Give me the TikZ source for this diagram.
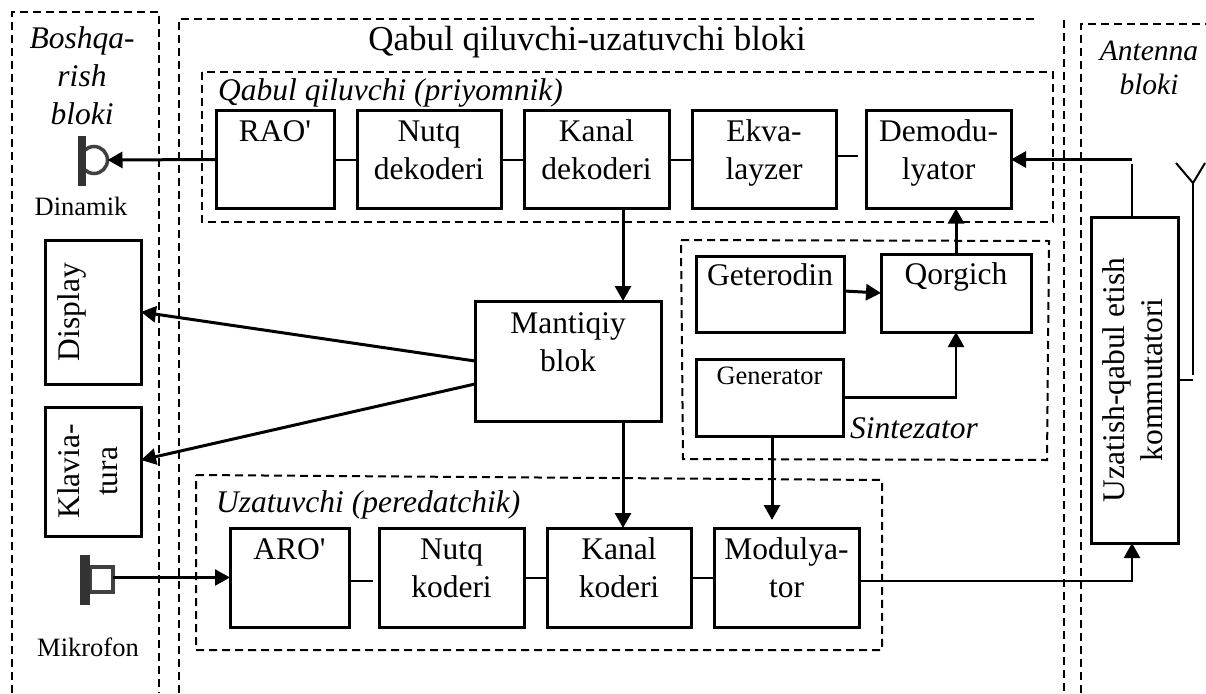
\documentclass[tikz,border=0pt]{standalone}
\usepackage{fontspec}
\usetikzlibrary{arrows.meta}
\newfontfamily\uzfont{Liberation Serif}
\tikzset{
  box/.style={draw, line width=3pt, align=center, inner sep=0pt, outer sep=0pt, font=\uzfont\fontsize{31.5}{38}\selectfont},
  label/.style={align=center, inner sep=0pt, font=\uzfont\fontsize{31.5}{38}\selectfont},
  smalllabel/.style={align=center, inner sep=0pt, font=\uzfont\fontsize{26.5}{32}\selectfont},
  tie/.style={line width=2pt},
  arrowline/.style={line width=3pt, -{Triangle[length=15pt,width=16pt]}},
  blockline/.style={line width=2.2pt, dash pattern=on 8pt off 5pt},
  groupline/.style={line width=2pt, dash pattern=on 8pt off 5pt},
}
\begin{document}
\begin{tikzpicture}[x=1pt,y=-1pt]
    \useasboundingbox (0,0) rectangle (1206,693);
    % outer blocks, open at the bottom
    \draw[blockline] (12,693) -- (12,12) -- (159,12) -- (159,693);
    \draw[blockline] (179,693) -- (179,19) -- (1036,19);
    \draw[blockline] (1064,20) -- (1064,693);
    \draw[blockline] (1081,693) -- (1081,24) -- (1206,24);
    % inner groups
    \draw[groupline] (202,72) rectangle (1053,222);
    \draw[groupline] (681,240) -- (1049,241) -- (1047,460) -- (683,459) -- cycle;
    \draw[groupline] (196,475) -- (882,480) -- (882,650) -- (196,650) -- cycle;
    % receiver row
    \foreach \name/\cx/\w/\txt in {rao/275/118/{RAO'\\ ~},nutqd/429/144/{Nutq\\ dekoderi},kanald/596.5/145/{Kanal\\ dekoderi},ekva/764/144/{Ekva-\\ layzer},demod/938.5/145/{Demodu-\\ lyator}} {
      \node[box, text depth=19pt, minimum width=\w pt, minimum height=98pt] (\name) at (\cx,159.5) {\txt};
    }
    % transmitter row
    \foreach \name/\cx/\w/\txt in {aro/289.5/119/{ARO'\\ ~},nutqk/451.5/145/{Nutq\\ koderi},kanalk/619/144/{Kanal\\ koderi},modul/786.5/145/{Modulya-\\ tor}} {
      \node[box, text depth=19pt, minimum width=\w pt, minimum height=99pt] (\name) at (\cx,577.5) {\txt};
    }
    % synthesizer
    \node[box, minimum width=148pt, minimum height=76pt] (geterodin) at (770,294) {Geterodin\\ ~};
    \node[box, minimum width=150pt, minimum height=78pt] (qorgich) at (956,293) {Qorgich\\ ~};
    \node[box, text depth=11pt, minimum width=147pt, minimum height=77pt, font=\uzfont\fontsize{26.5}{32}\selectfont] (generator) at (769.5,397.5) {Generator\\ ~};
    \node[box, minimum width=186pt, minimum height=120pt] (mantiqiy) at (568,361) {Mantiqiy\\ blok\\ ~};
    % upright boxes
    \node[box, rotate=90, text depth=10pt, minimum width=144pt, minimum height=96pt] (display) at (93,312) {Display\\ ~};
    \node[box, rotate=90, text depth=10pt, minimum width=129pt, minimum height=96pt] (klaviatura) at (93,471.5) {Klavia-\\ tura};
    \node[box, rotate=90, text depth=3pt, minimum width=326pt, minimum height=87pt] (uzatish) at (1134.5,380) {Uzatish-qabul etish\\ kommutatori};
    % icons
    \node[circle, draw=black!75, line width=3.5pt, minimum size=27pt, inner sep=0pt, outer sep=0pt] (dinamik) at (94,160) {};
    \draw[draw=black!80, line width=8pt] (82,136) -- (82,186);
    \node[draw=black!75, line width=3.5pt, minimum width=23pt, minimum height=25pt, inner sep=0pt, outer sep=0pt] (mikrofon) at (101.5,579.5) {};
    \draw[draw=black!80, line width=10pt] (85,555) -- (85,605);
    % antenna
    \coordinate (antfoot) at (1193,183);
    \coordinate (antbase) at (1193,375);
    \draw[tie] (1176,163) -- (antfoot) -- (1205,163);
    \draw[tie] (antfoot) -- (antbase);
    \draw[tie] (uzatish.south) -- ++(15,0);
    % texts
    \node[label, font=\uzfont\itshape\fontsize{31.5}{38}\selectfont] (boshqarish) at (82,76) {Boshqa-\\ rish\\ bloki};
    \node[smalllabel] (dinamiktxt) at (81,206) {Dinamik};
    \node[smalllabel] (mikrofontxt) at (88,647) {Mikrofon};
    \node[label, font=\uzfont\fontsize{35}{38}\selectfont] (title) at (587,42) {Qabul qiluvchi-uzatuvchi bloki};
    \node[label, anchor=west, font=\uzfont\itshape\fontsize{31.5}{38}\selectfont] (qabul) at (218,93) {Qabul qiluvchi (priyomnik)};
    \node[label, anchor=west, font=\uzfont\itshape\fontsize{31.5}{38}\selectfont] (uzatuvchi) at (216,505) {Uzatuvchi (peredatchik)};
    \node[label, anchor=west, font=\uzfont\itshape\fontsize{31.5}{38}\selectfont] (sintezator) at (850,428) {Sintezator};
    \node[label, font=\uzfont\itshape\fontsize{29.5}{34}\selectfont] (antenna) at (1149,68) {Antenna\\ bloki};
    % ties
    \foreach \a/\b in {rao/nutqd,nutqd/kanald,kanald/ekva,nutqk/kanalk,kanalk/modul} {
      \draw[tie] (\a) -- (\b);
    }
    \draw[tie] ([yshift=3.5pt]ekva.east) -- ++(22,0);
    \draw[tie] ([yshift=-3.5pt]aro.east) -- ++(24,0);
    % arrows
    \draw[arrowline] (rao.west) -- (dinamik.east);
    \draw[arrowline] (mantiqiy.west) -- (display.south);
    \draw[arrowline] ([yshift=-23pt]mantiqiy.west) -- ([yshift=11.5pt]klaviatura.south);
    \draw[arrowline] ([xshift=26.5pt]kanald.south) -- ([xshift=55pt]mantiqiy.north);
    \draw[arrowline] ([xshift=55pt]mantiqiy.south) -- ([xshift=4pt]kanalk.north);
    \draw[arrowline] ([xshift=2.5pt]generator.south) -- ([xshift=-14.5pt,yshift=8pt]modul.north);
    \draw[arrowline] ([yshift=3pt]geterodin.east) -- (qorgich.west);
    \draw[arrowline, line width=2.3pt] (generator.east) -| (qorgich.south);
    \draw[arrowline] (qorgich.north) -- (qorgich.north |- demod.south);
    \draw[arrowline, line width=2.3pt] ([yshift=-3.5pt]modul.east) -| ([xshift=-2.5pt]uzatish.west);
    \coordinate (junction) at ([xshift=-2.5pt]uzatish.east |- demod.east);
    \draw[tie] ([xshift=-2.5pt]uzatish.east) -- ([yshift=-4pt]junction);
    \draw[arrowline] (junction) -- (demod.east);
    \draw[arrowline, line width=2.3pt] (mikrofon.east |- aro.west) -- (aro.west);
  \end{tikzpicture}
\end{document}
